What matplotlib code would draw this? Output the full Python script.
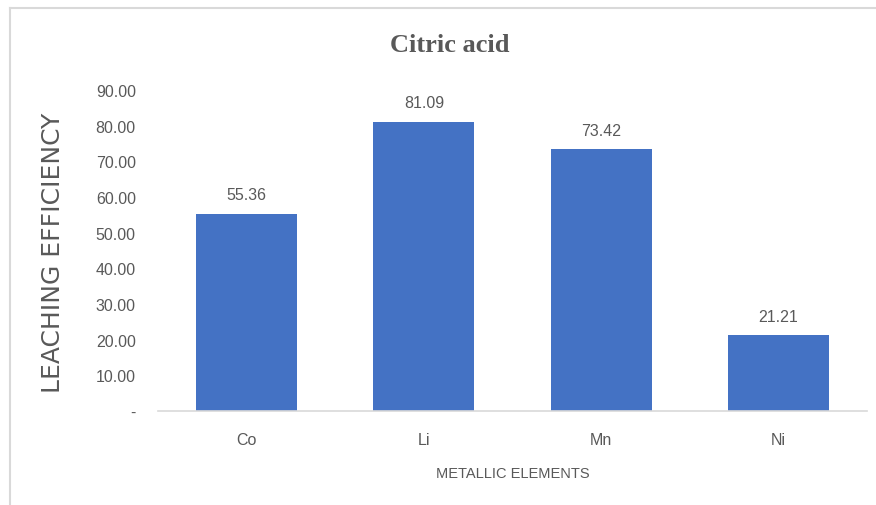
import matplotlib
matplotlib.use('Agg')
import matplotlib.pyplot as plt
from matplotlib.lines import Line2D

# leaching efficiency per metal, citric acid
elements = ['Co', 'Li', 'Mn', 'Ni']
efficiency = [55.36, 81.09, 73.42, 21.21]
y_ticks = [0, 10, 20, 30, 40, 50, 60, 70, 80, 90]

text_grey = '#595959'
bar_blue = '#4472C4'

fig = plt.figure(figsize=(8.76, 5.06), dpi=100)
ax = fig.add_axes([0.1804, 0.1858, 0.8093, 0.6344])

x = range(len(elements))
bars = ax.bar(x, efficiency, width=0.57, color=bar_blue, zorder=2)
ax.set_xlim(-0.5, len(elements) - 0.5)
ax.set_ylim(0, 90)

for b, v in zip(bars, efficiency):
    ax.text(b.get_x() + b.get_width() / 2, v + 3.2, f'{v:.2f}',
            ha='center', va='bottom', fontsize=11.5, color=text_grey,
            family='Liberation Sans')

ax.set_xticks(list(x))
ax.set_xticklabels(elements, fontsize=11.5, color=text_grey, family='Liberation Sans')
ax.set_yticks(y_ticks)
ax.set_yticklabels(['-' if t == 0 else f'{t:.2f}' for t in y_ticks],
                   fontsize=11.5, color=text_grey, family='Liberation Sans')
ax.tick_params(axis='both', length=0)
ax.tick_params(axis='x', pad=15)
ax.tick_params(axis='y', pad=16)

for s in ['top', 'right', 'left']:
    ax.spines[s].set_visible(False)
ax.spines['bottom'].set_color('#D9D9D9')
ax.spines['bottom'].set_linewidth(1.2)

ax.set_xlabel('METALLIC ELEMENTS', fontsize=10.5, color=text_grey,
              family='Liberation Sans', labelpad=14)
fig.text(0.06, 0.5, 'LEACHING EFFICIENCY', rotation=90, ha='center', va='center',
         fontsize=18, color=text_grey, family='DejaVu Sans')
fig.text(0.513, 0.91, 'Citric acid', ha='center', va='center',
         fontsize=19, fontweight='bold', color=text_grey, family='Liberation Serif')

# chart frame
fig.add_artist(Line2D([0.0114, 1.0], [0.982, 0.982], color='#D9D9D9', lw=1.5))
fig.add_artist(Line2D([0.0114, 0.0114], [0.0, 0.982], color='#D9D9D9', lw=1.5))

fig.savefig('out.png', dpi=100)
